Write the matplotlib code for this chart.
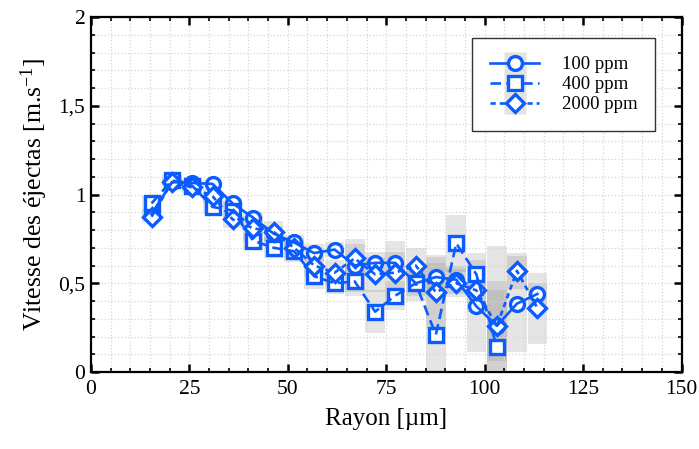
import matplotlib
matplotlib.use("Agg")
import matplotlib.pyplot as plt
import numpy as np
from matplotlib.lines import Line2D
from matplotlib.patches import Rectangle
from matplotlib.legend_handler import HandlerTuple
from matplotlib.ticker import MultipleLocator, FuncFormatter

# ----- data -----
rayon = [15.4, 20.6, 25.7, 30.9, 36.0, 41.2, 46.4, 51.6, 56.7, 61.9,
         67.0, 72.2, 77.3, 82.5, 87.6, 92.8, 97.9, 103.1, 108.2, 113.4]

v_100 = [0.89, 1.07, 1.065, 1.06, 0.95, 0.87, 0.78, 0.73, 0.67, 0.69,
         0.60, 0.615, 0.615, 0.50, 0.535, 0.52, 0.37, 0.26, 0.385, 0.44]
s_100 = [0.03, 0.02, 0.02, 0.02, 0.03, 0.03, 0.04, 0.04, 0.05, 0.04,
         0.15, 0.06, 0.06, 0.07, 0.08, 0.08, 0.26, 0.20, 0.27, 0.06]

v_400 = [0.95, 1.08, 1.05, 0.93, 0.91, 0.74, 0.70, 0.68, 0.54, 0.50,
         0.51, 0.34, 0.43, 0.50, 0.21, 0.725, 0.55, 0.14]
s_400 = [0.04, 0.03, 0.03, 0.04, 0.05, 0.05, 0.06, 0.06, 0.07, 0.06,
         0.08, 0.12, 0.08, 0.10, 0.45, 0.16, 0.12, 0.57]

v_2000 = [0.875, 1.07, 1.04, 0.99, 0.86, 0.81, 0.79, 0.70, 0.60, 0.56,
          0.64, 0.55, 0.56, 0.60, 0.45, 0.50, 0.46, 0.26, 0.57, 0.36]
s_2000 = [0.03, 0.02, 0.03, 0.04, 0.05, 0.07, 0.06, 0.05, 0.06, 0.07,
          0.08, 0.10, 0.18, 0.10, 0.20, 0.08, 0.12, 0.25, 0.10, 0.20]

series = [
    ("100 ppm", v_100, s_100, "o", "-"),
    ("400 ppm", v_400, s_400, "s", (0, (4, 2))),
    ("2000 ppm", v_2000, s_2000, "D", (0, (2, 1.5))),
]

BLUE = "#0a5cff"
BOX_HALF = 2.5

plt.rcParams.update({
    "font.family": ["Liberation Serif", "DejaVu Serif"],
    "mathtext.fontset": "stix",
    "mathtext.default": "regular",
})

fig = plt.figure(figsize=(6.99, 4.49), dpi=100)
ax = fig.add_axes([0.130, 0.1715, 0.845, 0.7905])

handles = []
for label, vals, stds, marker, ls in series:
    x = np.array(rayon[:len(vals)])
    y = np.array(vals)
    for xi, yi, si in zip(x, y, stds):
        ax.add_patch(Rectangle((xi - BOX_HALF, yi - si), 2 * BOX_HALF, 2 * si,
                               facecolor="0.5", edgecolor="none", alpha=0.2, zorder=1))
    ms = 10 if marker != "D" else 9.5
    ax.plot(x, y, linestyle="none", marker=marker, markersize=ms,
            markerfacecolor="white", markeredgecolor=BLUE, markeredgewidth=2.4, zorder=3)
    ax.plot(x, y, linestyle=ls, color=BLUE, linewidth=1.9, zorder=4)
    bg = Line2D([], [], linestyle="none", marker="s", markersize=16,
                markerfacecolor="#e3e3e3", markeredgecolor="none")
    fg = Line2D([], [], linestyle=ls, color=BLUE, linewidth=1.9, marker=marker,
                markersize=ms, markerfacecolor="white", markeredgecolor=BLUE,
                markeredgewidth=2.4)
    handles.append((bg, fg))

ax.set_xlim(0, 150)
ax.set_ylim(0, 2)
ax.xaxis.set_major_locator(MultipleLocator(25))
ax.xaxis.set_minor_locator(MultipleLocator(5))
ax.yaxis.set_major_locator(MultipleLocator(0.5))
ax.yaxis.set_minor_locator(MultipleLocator(0.1))
ax.yaxis.set_major_formatter(FuncFormatter(lambda v, p: f"{v:g}".replace(".", ",")))

ax.tick_params(which="both", direction="in", top=True, right=True, labelsize=15.5, width=1.0)
ax.tick_params(which="major", length=6, width=1.8)
ax.tick_params(which="minor", length=3, width=1.2)
ax.tick_params(axis="x", pad=6)
ax.tick_params(axis="y", pad=4)
for sp in ax.spines.values():
    sp.set_linewidth(1.6)

ax.grid(which="both", linestyle=":", color="#d6d6d6", linewidth=0.9)

ax.set_xlabel("Rayon [µm]", fontsize=18, labelpad=6)
ax.set_ylabel("Vitesse des éjectas [m.s$^{-1}$]", fontsize=18.5, labelpad=6)

leg = ax.legend(handles, [s[0] for s in series], handler_map={tuple: HandlerTuple(ndivide=1)},
                loc="upper right", bbox_to_anchor=(0.955, 0.94), fontsize=13.5,
                frameon=True, fancybox=False, edgecolor="#333333", framealpha=1,
                handlelength=2.6, borderpad=0.95, labelspacing=0.15, handletextpad=1.2,
                borderaxespad=0)
leg.get_frame().set_linewidth(1.0)

fig.savefig("out.png", dpi=100)
